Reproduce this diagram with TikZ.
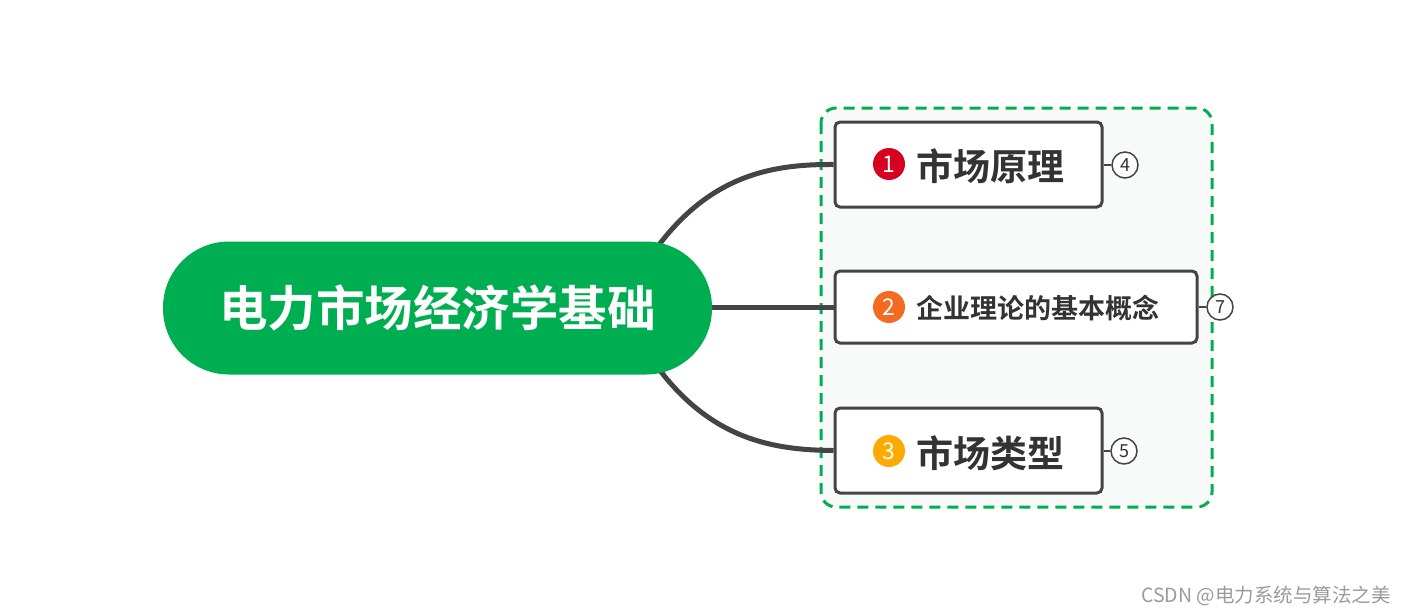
\documentclass[tikz,border=0pt]{standalone}
\usepackage{fontspec}
\newfontfamily\cjk{Noto Sans CJK SC}[BoldFont={Noto Sans CJK SC Bold}]
\setmainfont{Noto Sans CJK SC}[BoldFont={Noto Sans CJK SC Bold}]
\definecolor{mgreen}{HTML}{00AE52}
\definecolor{dgray}{HTML}{444444}
\definecolor{txt}{HTML}{333333}
\definecolor{bred}{HTML}{D7001F}
\definecolor{borange}{HTML}{F26B21}
\definecolor{byellow}{HTML}{FFAA00}
\definecolor{bgfill}{HTML}{F8FAFA}
\definecolor{wm}{HTML}{9A9A9A}
\tikzset{
  topicbox/.style={draw=dgray, line width=3pt, rounded corners=5pt, fill=white, minimum height=85pt, inner sep=0pt},
  badge/.style={circle, inner sep=0pt, minimum size=32pt, text=white, font=\fontsize{23}{23}\selectfont},
  countc/.style={circle, draw=dgray, line width=1.5pt, fill=white, inner sep=0pt, minimum size=26pt, text=txt, font=\fontsize{18}{18}\selectfont},
  conn/.style={draw=dgray, line width=5pt},
  thin/.style={draw=dgray, line width=1.5pt},
}
\begin{document}
\begin{tikzpicture}[x=1pt,y=-1pt]
\useasboundingbox (0,0) rectangle (1406,614);
% group
\draw[draw=mgreen, fill=bgfill, line width=3pt, dash pattern=on 11pt off 7pt, rounded corners=15pt] (821,108) rectangle (1212,507);
% topic boxes
\node[topicbox, minimum width=267pt] (t1) at (968.5,164.5) {};
\node[topicbox, minimum width=362pt, minimum height=72pt] (t2) at (1016,307) {};
\node[topicbox, minimum width=267pt] (t3) at (968.5,450.5) {};
% central pill anchors
\coordinate (s1) at (630,290);
\coordinate (s2) at (700,307);
\coordinate (s3) at (630,324);
% connectors
\draw[conn] (s1) .. controls (690,180) and (760,164) .. (t1.west);
\draw[conn] (s2) -- (t2.west);
\draw[conn] (s3) .. controls (690,434) and (760,450) .. (t3.west);
% central
\node[fill=mgreen, rounded corners=66pt, minimum width=549pt, minimum height=133pt, inner sep=0pt, text=white, font=\bfseries\fontsize{48.5}{48.5}\selectfont] (c) at (437.5,308) {电力市场经济学基础};
% badges and labels
\node[badge, fill=bred] (b1) at (889,164) {1};
\node[anchor=west, inner sep=0pt, text=txt, font=\bfseries\fontsize{37}{37}\selectfont] (l1) at (916,166) {市场原理};
\node[badge, fill=borange] (b2) at (889,307) {2};
\node[anchor=west, inner sep=0pt, text=txt, font=\bfseries\fontsize{27}{27}\selectfont] (l2) at (916,308) {企业理论的基本概念};
\node[badge, fill=byellow] (b3) at (889,451) {3};
\node[anchor=west, inner sep=0pt, text=txt, font=\bfseries\fontsize{37}{37}\selectfont] (l3) at (916,453) {市场类型};
% counts
\node[countc] (n1) at (1125,165) {4};
\node[countc] (n2) at (1220,307) {7};
\node[countc] (n3) at (1124,451) {5};
\draw[thin] (t1.east |- n1) -- (n1.west);
\draw[thin] (t2.east |- n2) -- (n2.west);
\draw[thin] (t3.east |- n3) -- (n3.west);
% watermark
\node[anchor=east, inner sep=0pt, text=wm, font=\fontsize{19.5}{19.5}\selectfont] (w) at (1391,596) {CSDN @电力系统与算法之美};
\end{tikzpicture}
\end{document}
